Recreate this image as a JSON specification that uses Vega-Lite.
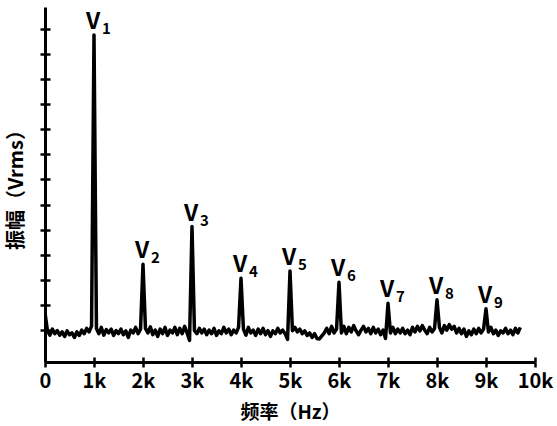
{
  "$schema": "https://vega.github.io/schema/vega-lite/v6.json",
  "width": 490,
  "height": 355,
  "autosize": "none",
  "padding": {"left": 45, "top": 7, "right": 22, "bottom": 64},
  "config": {"view": {"stroke": null}, "font": "Noto Sans CJK SC"},
  "datasets": {
    "spec": [
      {"f": 0, "v": 0.68}, {"f": 0.05, "v": -0.03}, {"f": 0.1, "v": -0.21}, {"f": 0.15, "v": 0.03}, {"f": 0.2, "v": -0.15},
      {"f": 0.25, "v": -0.03}, {"f": 0.3, "v": -0.21}, {"f": 0.35, "v": -0.08}, {"f": 0.4, "v": -0.26}, {"f": 0.45, "v": -0.04},
      {"f": 0.5, "v": -0.19}, {"f": 0.55, "v": -0.12}, {"f": 0.6, "v": -0.3}, {"f": 0.65, "v": -0.08}, {"f": 0.7, "v": -0.22},
      {"f": 0.75, "v": -0.01}, {"f": 0.8, "v": -0.15}, {"f": 0.85, "v": 0.06}, {"f": 0.9, "v": -0.08}, {"f": 0.95, "v": 0.15},
      {"f": 1.0, "v": 11.76},
      {"f": 1.05, "v": 0.06}, {"f": 1.1, "v": -0.15}, {"f": 1.15, "v": 0.1}, {"f": 1.2, "v": -0.21}, {"f": 1.25, "v": 0.01},
      {"f": 1.3, "v": -0.12}, {"f": 1.35, "v": 0.03}, {"f": 1.4, "v": -0.22}, {"f": 1.45, "v": -0.03}, {"f": 1.5, "v": -0.15},
      {"f": 1.55, "v": 0.03}, {"f": 1.6, "v": -0.19}, {"f": 1.65, "v": -0.04}, {"f": 1.7, "v": -0.3}, {"f": 1.75, "v": -0.01},
      {"f": 1.8, "v": -0.12}, {"f": 1.85, "v": 0.1}, {"f": 1.9, "v": -0.15}, {"f": 1.95, "v": 0.03},
      {"f": 2.0, "v": 2.62},
      {"f": 2.05, "v": 0.06}, {"f": 2.1, "v": -0.12}, {"f": 2.15, "v": 0.12}, {"f": 2.2, "v": -0.19}, {"f": 2.25, "v": -0.01},
      {"f": 2.3, "v": -0.26}, {"f": 2.35, "v": 0.03}, {"f": 2.4, "v": -0.15}, {"f": 2.45, "v": 0.1}, {"f": 2.5, "v": -0.22},
      {"f": 2.55, "v": -0.01}, {"f": 2.6, "v": -0.12}, {"f": 2.65, "v": 0.1}, {"f": 2.7, "v": -0.19}, {"f": 2.75, "v": 0.06},
      {"f": 2.8, "v": -0.15}, {"f": 2.85, "v": 0.14}, {"f": 2.9, "v": -0.12}, {"f": 2.95, "v": -0.42},
      {"f": 3.0, "v": 4.12},
      {"f": 3.05, "v": -0.03}, {"f": 3.1, "v": -0.15}, {"f": 3.15, "v": 0.06}, {"f": 3.2, "v": -0.12}, {"f": 3.25, "v": 0.03},
      {"f": 3.3, "v": -0.19}, {"f": 3.35, "v": -0.01}, {"f": 3.4, "v": -0.15}, {"f": 3.45, "v": 0.06}, {"f": 3.5, "v": -0.22},
      {"f": 3.55, "v": -0.04}, {"f": 3.6, "v": -0.15}, {"f": 3.65, "v": 0.1}, {"f": 3.7, "v": -0.12}, {"f": 3.75, "v": 0.03},
      {"f": 3.8, "v": -0.19}, {"f": 3.85, "v": -0.01}, {"f": 3.9, "v": -0.12}, {"f": 3.95, "v": 0.1},
      {"f": 4.0, "v": 2.06},
      {"f": 4.05, "v": 0.03}, {"f": 4.1, "v": -0.21}, {"f": 4.15, "v": 0.1}, {"f": 4.2, "v": -0.12}, {"f": 4.25, "v": -0.01},
      {"f": 4.3, "v": -0.22}, {"f": 4.35, "v": 0.03}, {"f": 4.4, "v": -0.15}, {"f": 4.45, "v": 0.06}, {"f": 4.5, "v": -0.19},
      {"f": 4.55, "v": -0.03}, {"f": 4.6, "v": -0.26}, {"f": 4.65, "v": -0.04}, {"f": 4.7, "v": -0.15}, {"f": 4.75, "v": 0.06},
      {"f": 4.8, "v": -0.12}, {"f": 4.85, "v": -0.01}, {"f": 4.9, "v": -0.15}, {"f": 4.95, "v": -0.38},
      {"f": 5.0, "v": 2.35},
      {"f": 5.05, "v": -0.03}, {"f": 5.1, "v": 0.1}, {"f": 5.15, "v": -0.08}, {"f": 5.2, "v": 0.03}, {"f": 5.25, "v": -0.15},
      {"f": 5.3, "v": -0.04}, {"f": 5.35, "v": -0.22}, {"f": 5.4, "v": -0.12}, {"f": 5.45, "v": -0.3}, {"f": 5.5, "v": -0.15},
      {"f": 5.55, "v": -0.34}, {"f": 5.6, "v": -0.36}, {"f": 5.65, "v": -0.24}, {"f": 5.7, "v": -0.12}, {"f": 5.75, "v": 0.06},
      {"f": 5.8, "v": -0.15}, {"f": 5.85, "v": 0.14}, {"f": 5.9, "v": -0.12}, {"f": 5.95, "v": 0.03},
      {"f": 6.0, "v": 1.9},
      {"f": 6.05, "v": -0.12}, {"f": 6.1, "v": 0.14}, {"f": 6.15, "v": -0.15}, {"f": 6.2, "v": 0.1}, {"f": 6.25, "v": -0.08},
      {"f": 6.3, "v": 0.17}, {"f": 6.35, "v": -0.04}, {"f": 6.4, "v": -0.19}, {"f": 6.45, "v": -0.01}, {"f": 6.5, "v": 0.14},
      {"f": 6.55, "v": -0.08}, {"f": 6.6, "v": 0.06}, {"f": 6.65, "v": -0.15}, {"f": 6.7, "v": 0.1}, {"f": 6.75, "v": -0.12},
      {"f": 6.8, "v": 0.03}, {"f": 6.85, "v": -0.19}, {"f": 6.9, "v": -0.01}, {"f": 6.95, "v": -0.34},
      {"f": 7.0, "v": 1.06},
      {"f": 7.05, "v": -0.12}, {"f": 7.1, "v": 0.1}, {"f": 7.15, "v": -0.15}, {"f": 7.2, "v": 0.03}, {"f": 7.25, "v": -0.12},
      {"f": 7.3, "v": 0.06}, {"f": 7.35, "v": -0.15}, {"f": 7.4, "v": -0.01}, {"f": 7.45, "v": -0.19}, {"f": 7.5, "v": 0.1},
      {"f": 7.55, "v": -0.08}, {"f": 7.6, "v": 0.14}, {"f": 7.65, "v": -0.04}, {"f": 7.7, "v": 0.17}, {"f": 7.75, "v": -0.01},
      {"f": 7.8, "v": -0.15}, {"f": 7.85, "v": 0.1}, {"f": 7.9, "v": -0.08}, {"f": 7.95, "v": 0.06},
      {"f": 8.0, "v": 1.2},
      {"f": 8.05, "v": 0.1}, {"f": 8.1, "v": -0.12}, {"f": 8.15, "v": 0.17}, {"f": 8.2, "v": -0.01}, {"f": 8.25, "v": 0.21},
      {"f": 8.3, "v": 0.03}, {"f": 8.35, "v": 0.14}, {"f": 8.4, "v": -0.12}, {"f": 8.45, "v": 0.06}, {"f": 8.5, "v": -0.15},
      {"f": 8.55, "v": 0.03}, {"f": 8.6, "v": -0.26}, {"f": 8.65, "v": -0.04}, {"f": 8.7, "v": -0.19}, {"f": 8.75, "v": 0.03},
      {"f": 8.8, "v": -0.15}, {"f": 8.85, "v": 0.06}, {"f": 8.9, "v": -0.12}, {"f": 8.95, "v": 0.03},
      {"f": 9.0, "v": 0.84},
      {"f": 9.05, "v": -0.08}, {"f": 9.1, "v": 0.1}, {"f": 9.15, "v": -0.15}, {"f": 9.2, "v": -0.01}, {"f": 9.25, "v": -0.22},
      {"f": 9.3, "v": -0.04}, {"f": 9.35, "v": -0.12}, {"f": 9.4, "v": 0.06}, {"f": 9.45, "v": -0.15}, {"f": 9.5, "v": -0.01},
      {"f": 9.55, "v": -0.19}, {"f": 9.6, "v": 0.06}, {"f": 9.65, "v": -0.12}, {"f": 9.7, "v": 0.1}
    ],
    "peaks": [
      {"f": 1, "v": 11.76, "n": "1"},
      {"f": 2, "v": 2.62, "n": "2"},
      {"f": 3, "v": 4.12, "n": "3"},
      {"f": 4, "v": 2.06, "n": "4"},
      {"f": 5, "v": 2.35, "n": "5"},
      {"f": 6, "v": 1.9, "n": "6"},
      {"f": 7, "v": 1.06, "n": "7"},
      {"f": 8, "v": 1.2, "n": "8"},
      {"f": 9, "v": 0.84, "n": "9"}
    ]
  },
  "encoding": {
    "x": {
      "field": "f",
      "type": "quantitative",
      "scale": {"domain": [0, 10], "nice": false, "zero": false},
      "axis": {
        "values": [0, 1, 2, 3, 4, 5, 6, 7, 8, 9, 10],
        "labelExpr": "datum.value == 0 ? '0' : datum.value + 'k'",
        "title": "频率（Hz）",
        "titleFontSize": 19,
        "titleFontWeight": "bold",
        "titleColor": "black",
        "titlePadding": 12,
        "labelFontSize": 20,
        "labelFontWeight": "bold",
        "labelColor": "black",
        "labelPadding": 4,
        "labelFlush": false,
        "labelOverlap": false,
        "domainColor": "black",
        "domainWidth": 3,
        "tickColor": "black",
        "tickWidth": 2.5,
        "tickSize": 5,
        "grid": true,
        "gridColor": "black",
        "gridOpacity": 1,
        "gridWidth": 2.5,
        "gridDash": [0, 350, 5, 2000]
      }
    },
    "y": {
      "field": "v",
      "type": "quantitative",
      "scale": {"domain": [-1.28, 12.88], "nice": false, "zero": false},
      "axis": {
        "values": [0, 1, 2, 3, 4, 5, 6, 7, 8, 9, 10, 11, 12],
        "labels": false,
        "title": "振幅（Vrms）",
        "titleFontSize": 20,
        "titleFontWeight": "bold",
        "titleColor": "black",
        "titlePadding": 12,
        "domainColor": "black",
        "domainWidth": 3,
        "tickColor": "black",
        "tickWidth": 2.5,
        "tickSize": 5,
        "grid": true,
        "gridColor": "black",
        "gridOpacity": 1,
        "gridWidth": 2.5,
        "gridDash": [5, 2000]
      }
    }
  },
  "layer": [
    {
      "data": {"name": "spec"},
      "mark": {"type": "line", "color": "black", "strokeWidth": 3.5, "strokeJoin": "round", "clip": true}
    },
    {
      "data": {"name": "peaks"},
      "mark": {"type": "text", "text": "V", "fontSize": 23, "fontWeight": "bold", "color": "black", "align": "center", "baseline": "alphabetic", "dx": -1, "dy": -6}
    },
    {
      "data": {"name": "peaks"},
      "mark": {"type": "text", "fontSize": 15, "fontWeight": "bold", "color": "black", "align": "left", "baseline": "alphabetic", "dx": 8, "dy": -1},
      "encoding": {"text": {"field": "n"}}
    }
  ]
}
